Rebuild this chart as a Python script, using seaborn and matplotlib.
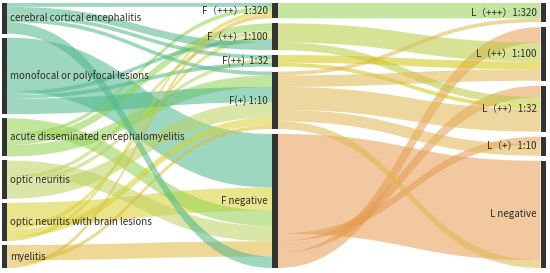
import matplotlib
matplotlib.use("Agg")
import matplotlib.pyplot as plt
import seaborn as sns
import pandas as pd
from matplotlib.path import Path
from matplotlib.patches import PathPatch, Rectangle

# ---------------- data ----------------
left_nodes = ["cerebral cortical encephalitis", "monofocal or polyfocal lesions",
              "acute disseminated encephalomyelitis", "optic neuritis",
              "optic neuritis with brain lesions", "myelitis"]
mid_nodes = ["F（+++）1:320", "F（++）1:100", "F(++)  1:32", "F(+) 1:10", "F negative"]
right_nodes = ["L（+++）1:320", "L（++）1:100", "L（++）1:32", "L（+）1:10", "L negative"]

# left -> middle flows (listed in stacking order)
lm_src = ["monofocal or polyfocal lesions", "optic neuritis with brain lesions",
          "acute disseminated encephalomyelitis", "optic neuritis", "myelitis",
          "cerebral cortical encephalitis", "acute disseminated encephalomyelitis",
          "acute disseminated encephalomyelitis", "optic neuritis",
          "optic neuritis with brain lesions", "monofocal or polyfocal lesions",
          "cerebral cortical encephalitis", "cerebral cortical encephalitis",
          "optic neuritis", "monofocal or polyfocal lesions",
          "cerebral cortical encephalitis", "acute disseminated encephalomyelitis",
          "monofocal or polyfocal lesions", "optic neuritis",
          "optic neuritis with brain lesions", "myelitis",
          "optic neuritis with brain lesions", "myelitis",
          "cerebral cortical encephalitis"]
lm_tgt = ["F negative", "F negative", "F negative", "F negative", "F negative",
          "F（+++）1:320", "F（+++）1:320",
          "F（++）1:100", "F（++）1:100", "F（++）1:100", "F（++）1:100", "F（++）1:100",
          "F(++)  1:32", "F(++)  1:32", "F(++)  1:32",
          "F(+) 1:10", "F(+) 1:10", "F(+) 1:10", "F(+) 1:10", "F(+) 1:10", "F(+) 1:10",
          "F（+++）1:320", "F（+++）1:320",
          "F negative"]
lm_val = [14, 6, 4, 4, 4,
          1, 1,
          2, 1, 1, 1, 2,
          1, 1, 1,
          1, 3, 4, 4, 2, 1,
          1, 1,
          3]

# middle -> right flows (listed in stacking order)
mr_src = ["F negative", "F negative", "F negative", "F negative",
          "F（+++）1:320", "F（++）1:100", "F（++）1:100",
          "F(++)  1:32", "F(++)  1:32",
          "F(+) 1:10", "F(+) 1:10", "F(+) 1:10", "F(+) 1:10", "F(+) 1:10"]
mr_tgt = ["L negative", "L（+）1:10", "L（++）1:32", "L（++）1:100",
          "L（+++）1:320", "L（++）1:100", "L（++）1:32",
          "L（++）1:100", "L（++）1:32",
          "L（+++）1:320", "L（++）1:100", "L（++）1:32", "L（+）1:10", "L negative"]
mr_val = [26, 2, 3, 4,
          4, 5, 2,
          2, 1,
          1, 3, 6, 3, 2]

node_colors = {
    "cerebral cortical encephalitis": "#4fb789",
    "monofocal or polyfocal lesions": "#4db78c",
    "acute disseminated encephalomyelitis": "#93d250",
    "optic neuritis": "#bcd261",
    "optic neuritis with brain lesions": "#d9cf2f",
    "myelitis": "#dfbb3f",
    "F（+++）1:320": "#93d250",
    "F（++）1:100": "#b7cb3f",
    "F(++)  1:32": "#d2c50d",
    "F(+) 1:10": "#dfb750",
    "F negative": "#e69b50",
}

# ---------------- layout ----------------
W, H = 550, 273
top, bottom = 3, 268
node_w = 5.5
col_x = [1.5, 272, 540.5]
min_gap = 4

links = pd.concat([
    pd.DataFrame({"src": lm_src, "tgt": lm_tgt, "val": lm_val}),
    pd.DataFrame({"src": mr_src, "tgt": mr_tgt, "val": mr_val}),
], ignore_index=True)

columns = [left_nodes, mid_nodes, right_nodes]
node_val = {}
for col in columns:
    for n in col:
        out_v = links.loc[links.src == n, "val"].sum()
        in_v = links.loc[links.tgt == n, "val"].sum()
        node_val[n] = max(out_v, in_v)

ky = min((bottom - top - (len(c) - 1) * min_gap) / sum(node_val[n] for n in c) for c in columns)

node_pos = {}
for ci, col in enumerate(columns):
    total = sum(node_val[n] for n in col) * ky
    gap = (bottom - top - total) / (len(col) - 1)
    y = top
    for n in col:
        h = node_val[n] * ky
        node_pos[n] = (col_x[ci], y, h)
        y += h + gap

# ---------------- draw ----------------
sns.set_theme(style="white")
plt.rcParams["font.family"] = ["Noto Sans CJK SC", "DejaVu Sans"]

fig = plt.figure(figsize=(W / 100, H / 100), dpi=100)
ax = fig.add_axes([0, 0, 1, 1])
ax.set_xlim(0, W)
ax.set_ylim(H, 0)
ax.axis("off")

out_off = {n: 0.0 for n in node_pos}
in_off = {n: 0.0 for n in node_pos}
for _, r in links.iterrows():
    sx, sy, sh = node_pos[r.src]
    tx, ty, th = node_pos[r.tgt]
    h = r.val * ky
    y0 = sy + out_off[r.src]
    y1 = ty + in_off[r.tgt]
    out_off[r.src] += h
    in_off[r.tgt] += h
    x0 = sx + node_w
    x1 = tx
    xm = (x0 + x1) / 2
    verts = [(x0, y0), (xm, y0), (xm, y1), (x1, y1),
             (x1, y1 + h), (xm, y1 + h), (xm, y0 + h), (x0, y0 + h), (x0, y0)]
    codes = [Path.MOVETO, Path.CURVE4, Path.CURVE4, Path.CURVE4,
             Path.LINETO, Path.CURVE4, Path.CURVE4, Path.CURVE4, Path.CLOSEPOLY]
    ax.add_patch(PathPatch(Path(verts, codes), facecolor=node_colors[r.src],
                           edgecolor="none", alpha=0.55, zorder=1))

for ci, col in enumerate(columns):
    for n in col:
        x, y, h = node_pos[n]
        ax.add_patch(Rectangle((x, y), node_w, h, facecolor="#333333",
                               edgecolor="none", zorder=2))
        if ci == 0:
            ax.text(x + node_w + 3.5, y + h / 2, n, ha="left", va="center",
                    fontsize=7.0, color="#2e2e2e", zorder=3)
        else:
            ax.text(x - 4, y + h / 2, n, ha="right", va="center",
                    fontsize=7.0, color="#2e2e2e", zorder=3)

fig.savefig("out.png", dpi=100)
